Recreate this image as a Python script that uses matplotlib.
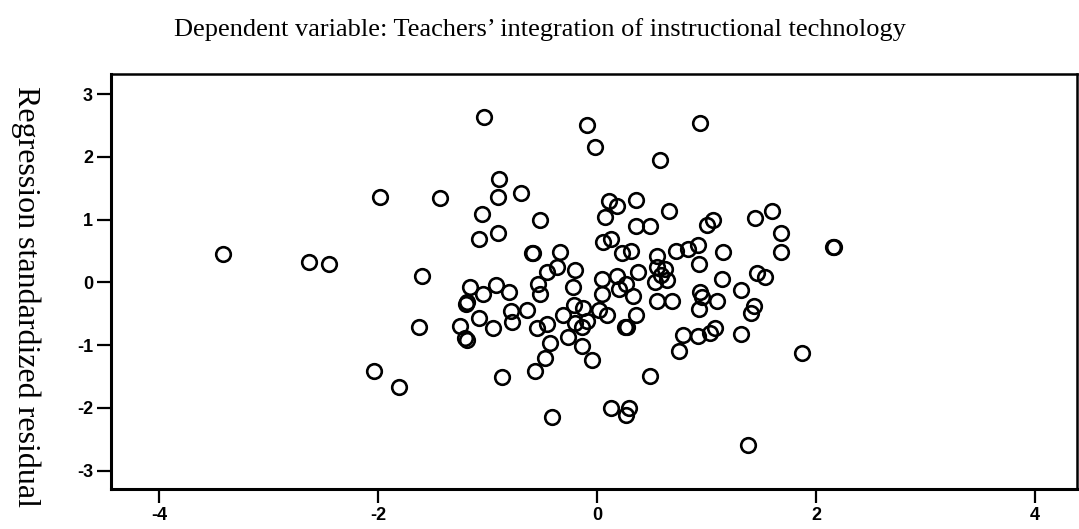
import matplotlib
matplotlib.use("Agg")
import matplotlib.pyplot as plt

plt.rcParams["axes.unicode_minus"] = False

# regression standardized predicted value (x) and standardized residual (y)
pred_x = [
    -3.42, -2.63, -2.45, -1.98, -1.44, -1.60, -1.63, -2.04, -1.81,
    -1.03, -0.09, -0.02, 0.94, 0.57, -0.90, -0.91, -0.70, -1.05, -0.52,
    -1.08, -0.91, -0.60, -0.59, -0.34, 0.11, 0.18, 0.35, 0.07, 0.66,
    0.35, 0.48, 0.05, 0.13, 0.23, 0.31, 0.55, 0.72, 0.83, 0.92, 1.15,
    1.00, 1.06, 1.44, 1.60, 1.68, 1.68, 2.15, 2.16, 1.46, 1.53, 1.31,
    1.14, 1.43, 1.40, 1.31, 1.87, 1.38, 1.09, 0.93, 0.94, 0.96, 0.93,
    0.55, 0.68, 0.55, 0.62, 0.58, 0.53, 0.64, 0.37, 0.04, 0.18, 0.26,
    0.20, 0.04, 0.33, 0.35, 0.25, 0.27, 0.09, 0.02, -0.13, -0.21, -0.31,
    -0.09, -0.20, -0.14, -0.27, -0.43, -0.14, -0.48, -0.05, -0.57, -0.87,
    -0.41, 0.13, 0.29, 0.26, 0.48, 0.78, 0.92, 1.03, 1.08, 0.75, -0.55,
    -0.46, -0.64, -0.79, -0.78, -0.95, -1.08, -1.25, -1.21, -1.19, -1.19,
    -1.20, -1.16, -1.04, -0.92, -0.81, -0.54, -0.52, -0.46, -0.37, -0.20,
    -0.22,
]
resid_y = [
    0.45, 0.33, 0.29, 1.36, 1.35, 0.10, -0.72, -1.42, -1.67,
    2.63, 2.50, 2.16, 2.54, 1.95, 1.64, 1.36, 1.43, 1.09, 1.00,
    0.69, 0.79, 0.47, 0.46, 0.48, 1.29, 1.22, 1.32, 1.04, 1.14,
    0.90, 0.90, 0.64, 0.69, 0.46, 0.50, 0.42, 0.50, 0.53, 0.59, 0.48,
    0.91, 0.99, 1.02, 1.14, 0.78, 0.48, 0.57, 0.56, 0.15, 0.08, -0.12,
    0.06, -0.38, -0.49, -0.83, -1.12, -2.60, -0.29, 0.30, -0.16, -0.24, -0.42,
    -0.30, -0.30, 0.25, 0.22, 0.12, 0.01, 0.04, 0.16, 0.06, 0.10, -0.02,
    -0.10, -0.19, -0.22, -0.52, -0.71, -0.72, -0.52, -0.44, -0.41, -0.36, -0.52,
    -0.62, -0.65, -0.71, -0.87, -0.97, -1.01, -1.21, -1.24, -1.42, -1.51,
    -2.14, -2.01, -2.01, -2.11, -1.50, -0.84, -0.85, -0.81, -0.73, -1.09, -0.73,
    -0.67, -0.44, -0.45, -0.63, -0.73, -0.57, -0.69, -0.88, -0.92, -0.32,
    -0.35, -0.07, -0.19, -0.04, -0.15, -0.02, -0.18, 0.17, 0.24, 0.20,
    -0.07,
]

x_ticks = [-4, -2, 0, 2, 4]
y_ticks = [-3, -2, -1, 0, 1, 2, 3]

title_text = "Dependent variable: Teachers\u2019 integration of instructional technology"
ylabel_text = "Regression standardized residual"

fig = plt.figure(figsize=(10.79, 5.29), dpi=100)
ax = fig.add_axes([0.1029, 0.075, 0.8951, 0.785])

ax.plot(pred_x, resid_y, linestyle="none", marker="o", markersize=10.5,
        markerfacecolor="none", markeredgecolor="black", markeredgewidth=1.9)

ax.set_xlim(-4.44, 4.38)
ax.set_ylim(-3.30, 3.32)
ax.set_xticks(x_ticks)
ax.set_yticks(y_ticks)

for side in ["left", "bottom"]:
    ax.spines[side].set_linewidth(2.2)
for side in ["top", "right"]:
    ax.spines[side].set_linewidth(1.8)

ax.tick_params(direction="out", length=10, width=1.6, pad=3)
for lbl in ax.get_xticklabels() + ax.get_yticklabels():
    lbl.set_fontfamily("Liberation Sans")
    lbl.set_fontweight("bold")
    lbl.set_fontsize(13)

fig.text(0.5, 0.945, title_text, ha="center", va="center",
         fontfamily="Liberation Serif", fontsize=19)
fig.text(0.024, 0.44, ylabel_text, ha="center", va="center", rotation=270,
         fontfamily="Liberation Serif", fontsize=23)

fig.savefig("out.png", dpi=100)
